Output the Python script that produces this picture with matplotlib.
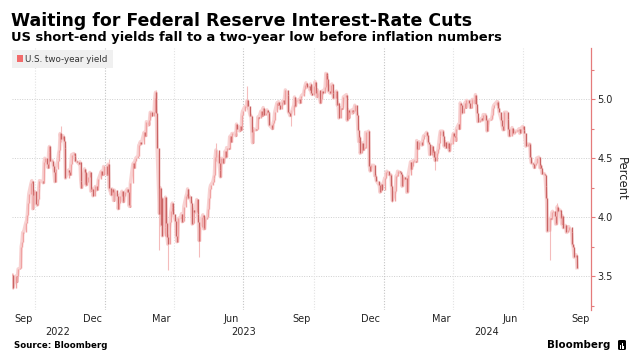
import matplotlib
matplotlib.use("Agg")
import matplotlib.pyplot as plt
import matplotlib.dates as mdates
import numpy as np
import pandas as pd
from pandas.tseries.holiday import USFederalHolidayCalendar
from pandas.tseries.offsets import CustomBusinessDay
from matplotlib.patches import Rectangle, FancyBboxPatch

# ---------------- data: daily closes of the US 2-year yield (%) ----------------
sep22 = [3.51, 3.40, 3.50, 3.45, 3.50, 3.56, 3.57, 3.75, 3.79, 3.87, 3.87, 3.95, 3.97, 4.02, 4.12, 4.20, 4.29, 4.31, 4.07, 4.19, 4.22]
oct22 = [4.11, 4.10, 4.15, 4.25, 4.31, 4.30, 4.29, 4.47, 4.50, 4.45, 4.42, 4.55, 4.60, 4.48, 4.48, 4.43, 4.38, 4.30, 4.41, 4.48]
nov22 = [4.54, 4.57, 4.71, 4.66, 4.69, 4.65, 4.59, 4.33, 4.40, 4.38, 4.36, 4.45, 4.53, 4.54, 4.52, 4.48, 4.47, 4.45, 4.47, 4.31]
dec22 = [4.25, 4.28, 4.41, 4.38, 4.27, 4.30, 4.34, 4.38, 4.22, 4.24, 4.24, 4.18, 4.26, 4.26, 4.23, 4.25, 4.32, 4.39, 4.36, 4.36, 4.43]
jan23 = [4.37, 4.36, 4.45, 4.25, 4.19, 4.24, 4.21, 4.14, 4.23, 4.18, 4.07, 4.12, 4.18, 4.22, 4.14, 4.13, 4.18, 4.21, 4.24, 4.21]
feb23 = [4.10, 4.09, 4.29, 4.44, 4.46, 4.42, 4.48, 4.50, 4.52, 4.61, 4.62, 4.64, 4.62, 4.72, 4.69, 4.69, 4.81, 4.78, 4.82]
mar23 = [4.89, 4.89, 4.86, 4.89, 5.01, 5.06, 4.88, 4.59, 4.03, 4.25, 3.93, 4.16, 3.84, 3.92, 4.17, 3.95, 3.83, 3.77, 3.96, 4.05, 4.09, 4.12, 4.03]
apr23 = [3.97, 3.84, 3.79, 3.82, 3.99, 4.00, 4.03, 3.96, 3.97, 4.09, 4.18, 4.20, 4.24, 4.16, 4.18, 4.12, 3.94, 3.95, 4.06, 4.04]
may23 = [4.15, 4.03, 3.96, 3.80, 3.92, 4.00, 4.02, 3.90, 3.90, 3.98, 4.00, 4.07, 4.16, 4.24, 4.27, 4.30, 4.33, 4.36, 4.51, 4.57, 4.46, 4.40]
jun23 = [4.34, 4.50, 4.46, 4.50, 4.56, 4.51, 4.59, 4.58, 4.68, 4.69, 4.64, 4.71, 4.71, 4.69, 4.79, 4.75, 4.73, 4.77, 4.74, 4.87, 4.90]
jul23 = [4.94, 4.94, 4.99, 4.94, 4.86, 4.86, 4.72, 4.63, 4.75, 4.74, 4.74, 4.75, 4.85, 4.84, 4.90, 4.86, 4.86, 4.93, 4.87, 4.88]
aug23 = [4.91, 4.89, 4.88, 4.78, 4.76, 4.75, 4.80, 4.82, 4.89, 4.97, 4.95, 4.98, 4.95, 4.92, 4.98, 4.99, 4.96, 5.02, 5.08, 5.04, 4.89, 4.88, 4.86]
sep23 = [4.87, 4.95, 5.02, 4.94, 4.99, 4.99, 5.00, 4.97, 5.01, 5.03, 5.05, 5.09, 5.12, 5.14, 5.10, 5.11, 5.08, 5.13, 5.05, 5.04]
oct23 = [5.11, 5.15, 5.05, 5.02, 5.08, 4.97, 5.00, 5.07, 5.05, 5.10, 5.22, 5.21, 5.17, 5.07, 5.05, 5.12, 5.13, 5.05, 5.01, 5.05, 5.07]
nov23 = [4.95, 4.97, 4.84, 4.93, 4.92, 4.93, 5.02, 5.04, 4.82, 4.91, 4.84, 4.89, 4.91, 4.88, 4.90, 4.95, 4.87, 4.74, 4.64, 4.68]
dec23 = [4.54, 4.63, 4.57, 4.59, 4.59, 4.72, 4.72, 4.73, 4.43, 4.39, 4.44, 4.44, 4.44, 4.35, 4.35, 4.31, 4.27, 4.21, 4.28, 4.23]
jan24 = [4.33, 4.33, 4.38, 4.39, 4.36, 4.36, 4.36, 4.26, 4.14, 4.22, 4.35, 4.35, 4.39, 4.38, 4.38, 4.37, 4.26, 4.34, 4.32, 4.33, 4.21]
feb24 = [4.21, 4.36, 4.47, 4.41, 4.43, 4.48, 4.48, 4.47, 4.65, 4.58, 4.58, 4.64, 4.61, 4.66, 4.69, 4.69, 4.72, 4.70, 4.64, 4.62]
mar24 = [4.53, 4.60, 4.55, 4.56, 4.51, 4.48, 4.54, 4.58, 4.63, 4.69, 4.73, 4.73, 4.69, 4.60, 4.64, 4.59, 4.63, 4.58, 4.56, 4.62, 4.62]
apr24 = [4.71, 4.69, 4.68, 4.65, 4.75, 4.79, 4.75, 4.97, 4.95, 4.88, 4.93, 4.97, 4.93, 4.99, 4.99, 4.97, 4.93, 4.93, 4.99, 5.00, 4.97, 5.04]
may24 = [4.96, 4.88, 4.81, 4.82, 4.83, 4.84, 4.82, 4.87, 4.87, 4.82, 4.73, 4.78, 4.82, 4.83, 4.83, 4.87, 4.93, 4.95, 4.98, 4.98, 4.93, 4.89]
jun24 = [4.82, 4.77, 4.74, 4.74, 4.89, 4.89, 4.83, 4.75, 4.69, 4.69, 4.76, 4.71, 4.71, 4.73, 4.73, 4.74, 4.75, 4.71, 4.75]
jul24 = [4.77, 4.74, 4.71, 4.60, 4.62, 4.62, 4.62, 4.51, 4.46, 4.45, 4.42, 4.44, 4.46, 4.50, 4.51, 4.42, 4.44, 4.42, 4.37, 4.37, 4.36, 4.26]
aug24 = [4.16, 3.88, 3.89, 3.99, 3.98, 4.04, 4.05, 4.01, 3.94, 3.94, 4.09, 4.05, 4.06, 3.99, 3.94, 4.01, 3.91, 3.93, 3.87, 3.87, 3.89, 3.92]
sep24 = [3.87, 3.77, 3.75, 3.66, 3.68, 3.57]

# intraday extremes on notable days
wick_dates = ["2022-09-02", "2022-11-04", "2023-01-06", "2023-03-08", "2023-03-13", "2023-03-24",
              "2023-05-04", "2023-05-26", "2023-07-06", "2023-08-25", "2023-09-01", "2023-10-19",
              "2024-01-12", "2024-03-08", "2024-08-05", "2024-08-15"]
wick_lows = [3.39, 4.64, 4.22, 4.98, 3.72, 3.55, 3.66, 4.48, 4.92, 4.97, 4.77, 5.12, 4.13, 4.40, 3.64, 4.00]
wick_highs = [3.52, 4.77, 4.49, 5.08, 4.40, 3.86, 3.90, 4.63, 5.11, 5.08, 4.91, 5.23, 4.27, 4.56, 3.93, 4.12]

month_keys = ["2022-09", "2022-10", "2022-11", "2022-12", "2023-01", "2023-02", "2023-03", "2023-04",
              "2023-05", "2023-06", "2023-07", "2023-08", "2023-09", "2023-10", "2023-11", "2023-12",
              "2024-01", "2024-02", "2024-03", "2024-04", "2024-05", "2024-06", "2024-07", "2024-08", "2024-09"]
month_vals = [sep22, oct22, nov22, dec22, jan23, feb23, mar23, apr23, may23, jun23, jul23, aug23,
              sep23, oct23, nov23, dec23, jan24, feb24, mar24, apr24, may24, jun24, jul24, aug24, sep24]

month_labels = ["Sep", "Dec", "Mar", "Jun", "Sep", "Dec", "Mar", "Jun", "Sep"]
month_label_dates = ["2022-09-16", "2022-12-15", "2023-03-16", "2023-06-15", "2023-09-15",
                     "2023-12-15", "2024-03-16", "2024-06-15", "2024-09-15"]
year_labels = ["2022", "2023", "2024"]
year_label_dates = ["2022-10-31", "2023-07-02", "2024-05-15"]
grid_dates = ["2022-10-01", "2023-01-01", "2023-04-01", "2023-07-01", "2023-10-01",
              "2024-01-01", "2024-04-01", "2024-07-01"]
dark_grid = ["2023-01-01", "2023-07-01", "2024-01-01"]

# ---------------- build date axis ----------------
cbd = CustomBusinessDay(calendar=USFederalHolidayCalendar())
dates, vals = [], []
for i, (key, v) in enumerate(zip(month_keys, month_vals)):
    start = pd.Timestamp(key + "-01")
    end = start + pd.offsets.MonthEnd(0)
    days = pd.date_range(start, end, freq=cbd)
    if i == len(month_keys) - 1:
        days = days[:len(v)]
    if len(days) != len(v):
        pos = np.linspace(days[0].value, days[-1].value, len(v))
        days = pd.to_datetime(pos)
    dates.extend(list(days))
    vals.extend(v)

x = mdates.date2num(pd.to_datetime(dates))
y = np.array(vals)
prev = np.concatenate([[y[0]], y[:-1]])
lo = np.minimum(prev, y)
hi = np.maximum(prev, y)
hi = np.where(hi - lo < 0.006, lo + 0.006, hi)
cols = np.where(y < prev, "#c96363", "#f0a2a2")

# ---------------- figure ----------------
W, H = 638, 360
fig = plt.figure(figsize=(W / 100, H / 100), dpi=100)
fig.patch.set_facecolor("white")
ax = fig.add_axes([12 / W, 1 - 310 / H, (591 - 12) / W, (310 - 48) / H])

ax.set_xlim(mdates.date2num(pd.Timestamp("2022-09-01")), mdates.date2num(pd.Timestamp("2024-09-28 08:00")))
ax.set_ylim(3.212, 5.435)

# gridlines
for yv in [3.5, 4.0, 4.5, 5.0]:
    ax.axhline(yv, color="#cfcfcf", lw=0.7, ls=(0, (1, 1.5)), zorder=0)
for gd in grid_dates:
    c = "#c4c4c4" if gd in dark_grid else "#e2e2e2"
    ax.axvline(mdates.date2num(pd.Timestamp(gd)), color=c, lw=0.8, ls=(0, (1, 1.5)), zorder=0)

# soft halo standing in for daily trading ranges
ax.plot(x, y, color="#f8d2d2", lw=2.4, solid_joinstyle="round", zorder=1)
# wicks
wx = mdates.date2num(pd.to_datetime(wick_dates))
ax.vlines(wx, wick_lows, wick_highs, colors="#f4bcbc", lw=0.8, zorder=1.5)
# bodies
ax.vlines(x, lo, hi, colors=cols, lw=1.0, zorder=2)

# spines & ticks
for s in ["left", "top", "bottom"]:
    ax.spines[s].set_visible(False)
ax.spines["right"].set_color("#e57b7b")
ax.spines["right"].set_linewidth(0.9)
ax.yaxis.tick_right()
ax.set_yticks([3.5, 4.0, 4.5, 5.0])
ax.set_yticklabels(["3.5", "4.0", "4.5", "5.0"])
ax.set_yticks([3.25, 3.75, 4.25, 4.75, 5.25], minor=True)
ax.tick_params(axis="y", which="major", direction="out", length=3, width=0.8, color="#e57b7b",
               labelsize=7, labelcolor="#222222", pad=1.5)
ax.tick_params(axis="y", which="minor", direction="out", length=2.2, width=0.8, color="#e57b7b")
ax.set_xticks([])
ax.text(1.052, 0.5, "Percent", transform=ax.transAxes, rotation=270, ha="center", va="center",
        fontsize=8.3, color="#222222")

# x labels
trans = ax.get_xaxis_transform()
for lab, d in zip(month_labels, month_label_dates):
    ax.text(mdates.date2num(pd.Timestamp(d)), -0.035, lab, transform=trans, ha="center", va="center",
            fontsize=7, color="#222222")
for lab, d in zip(year_labels, year_label_dates):
    ax.text(mdates.date2num(pd.Timestamp(d)), -0.085, lab, transform=trans, ha="center", va="center",
            fontsize=7, color="#222222")

# titles
fig.text(11 / W, 1 - 26 / H, "Waiting for Federal Reserve Interest-Rate Cuts", fontsize=12.5,
         fontweight="bold", ha="left", va="baseline", color="black")
fig.text(11 / W, 1 - 41.5 / H, "US short-end yields fall to a two-year low before inflation numbers",
         fontsize=9.4, fontweight="bold", ha="left", va="baseline", color="black")

# legend
fig.patches.append(Rectangle((12 / W, 1 - 68 / H), 101 / W, 18 / H, transform=fig.transFigure,
                             facecolor="#f0f0f0", edgecolor="none", zorder=5))
fig.patches.append(Rectangle((17 / W, 1 - 62 / H), 6 / W, 7 / H, transform=fig.transFigure,
                             facecolor="#f26b6b", edgecolor="none", zorder=6))
fig.text(25 / W, 1 - 59 / H, "U.S. two-year yield", fontsize=6.3, ha="left", va="center",
         color="#333333", zorder=7)

# footer
fig.text(14 / W, 1 - 346 / H, "Source: Bloomberg", fontsize=6.2, fontweight="bold", ha="left",
         va="center", color="black")
fig.text(610 / W, 1 - 345 / H, "Bloomberg", fontsize=7.4, fontweight="bold", ha="right",
         va="center", color="black")
fig.patches.append(FancyBboxPatch((618 / W, 1 - 350 / H), 8 / W, 10 / H, transform=fig.transFigure,
                                  boxstyle="round,pad=0,rounding_size=0.003", facecolor="black",
                                  edgecolor="none", zorder=6))
for bx, bh in zip([619.8, 621.6, 623.4], [4, 6, 3]):
    fig.patches.append(Rectangle((bx / W, 1 - 348.5 / H), 1.0 / W, bh / H, transform=fig.transFigure,
                                 facecolor="white", edgecolor="none", zorder=7))

fig.savefig("out.png", dpi=100, facecolor="white")
